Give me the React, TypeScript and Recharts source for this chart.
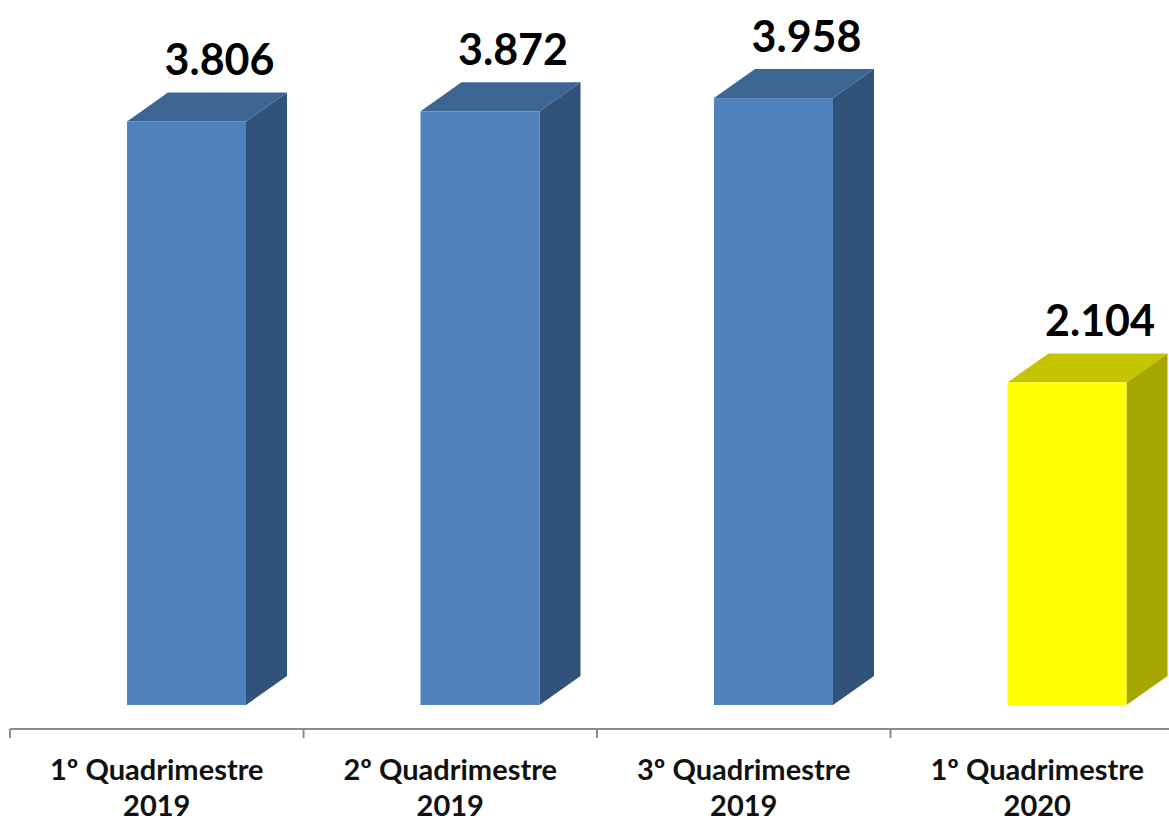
import { Bar, BarChart, LabelList, XAxis, YAxis } from 'recharts';

const periods = ['1º Quadrimestre', '2º Quadrimestre', '3º Quadrimestre', '1º Quadrimestre'];
const years = ['2019', '2019', '2019', '2020'];
const values = [3806, 3872, 3958, 2104];
const valueDomain = [0, 4500];

const data = periods.map((period, i) => ({ period, year: years[i], value: values[i] }));

// front / top / side shades per bar
const FACES = [
  { front: '#4F81BD', top: '#3D6594', side: '#31527A' },
  { front: '#4F81BD', top: '#3D6594', side: '#31527A' },
  { front: '#4F81BD', top: '#3D6594', side: '#31527A' },
  { front: '#FFFF00', top: '#C4C400', side: '#A6A600' },
];

const CHART_W = 1190;
const CHART_H = 824;
const MARGIN = { top: 39, right: 6, bottom: 0, left: 10 };
const AXIS_H = 95;
const DEPTH_X = 41;
const DEPTH_Y = 29;
const LIFT = 24; // floor of the boxes sits above the axis line
const SHIFT_X = 30;
const FONT = 'Lato, "Open Sans", sans-serif';

const catWidth = (CHART_W - MARGIN.left - MARGIN.right) / data.length;

const fmt = (v: number) => String(v).replace(/\B(?=(\d{3})+(?!\d))/g, '.');

function Box3D(props: any) {
  const { x, y, width, height, index } = props;
  const c = FACES[index] ?? FACES[0];
  const fx = x + SHIFT_X;
  const top = y - LIFT;
  const bottom = y + height - LIFT;
  return (
    <g>
      <polygon
        points={`${fx + width},${top} ${fx + width + DEPTH_X},${top - DEPTH_Y} ${fx + width + DEPTH_X},${bottom - DEPTH_Y} ${fx + width},${bottom}`}
        fill={c.side}
      />
      <polygon
        points={`${fx},${top} ${fx + DEPTH_X},${top - DEPTH_Y} ${fx + width + DEPTH_X},${top - DEPTH_Y} ${fx + width},${top}`}
        fill={c.top}
      />
      <rect x={fx} y={top} width={width} height={bottom - top} fill={c.front} />
    </g>
  );
}

function ValueLabel(props: any) {
  const { x, y, width, value } = props;
  return (
    <text
      x={x + width / 2 + 63}
      y={y - 70}
      textAnchor="middle"
      fontFamily={FONT}
      fontWeight={700}
      fontSize={43}
      fill="#000"
    >
      {fmt(value)}
    </text>
  );
}

function CategoryTick(props: any) {
  const { x, y, index } = props;
  const row = data[index];
  const left = x - catWidth / 2;
  return (
    <g>
      <line x1={left} y1={y} x2={left} y2={y + 9} stroke="#8c8c8c" strokeWidth={2} />
      <text textAnchor="middle" fontFamily={FONT} fontWeight={700} fontSize={29} fill="#111">
        <tspan x={x} y={y + 51}>{row?.period}</tspan>
        <tspan x={x} y={y + 87}>{row?.year}</tspan>
      </text>
    </g>
  );
}

export default function App() {
  return (
    <div
      style={{
        position: 'absolute',
        left: 0,
        top: 0,
        width: 1169,
        height: 824,
        overflow: 'hidden',
        background: '#fff',
      }}
    >
      <BarChart width={CHART_W} height={CHART_H} data={data} margin={MARGIN}>
        <XAxis
          dataKey="period"
          height={AXIS_H}
          interval={0}
          tickSize={0}
          tickMargin={0}
          tickLine={false}
          axisLine={{ stroke: '#8c8c8c', strokeWidth: 2 }}
          tick={<CategoryTick />}
        />
        <YAxis hide domain={valueDomain} />
        <Bar dataKey="value" barSize={119} shape={<Box3D />} isAnimationActive={false}>
          <LabelList dataKey="value" content={<ValueLabel />} />
        </Bar>
      </BarChart>
    </div>
  );
}
